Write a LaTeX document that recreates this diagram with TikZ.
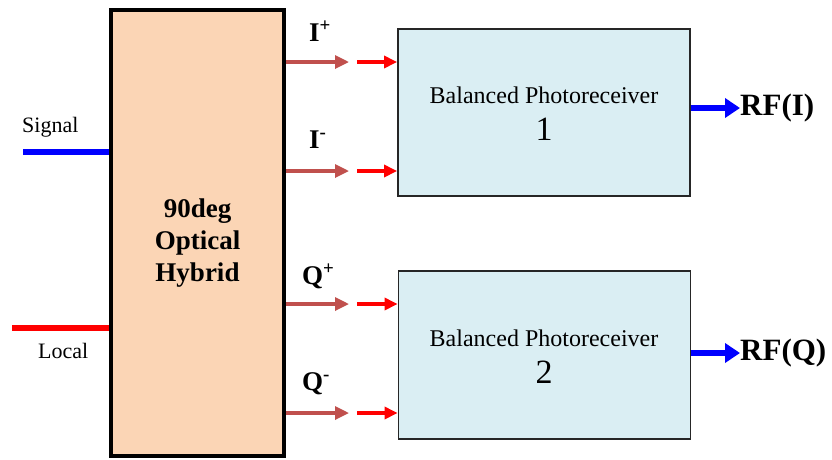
\documentclass[tikz,border=0pt]{standalone}
\usepackage{fontspec}
\setmainfont{Liberation Serif}
\usetikzlibrary{arrows.meta}
\definecolor{hybfill}{RGB}{251,213,181}
\definecolor{prfill}{RGB}{218,238,243}
\definecolor{brn}{RGB}{192,80,77}
\definecolor{sigblue}{RGB}{0,0,255}
\definecolor{lored}{RGB}{255,0,0}
\begin{document}
\begin{tikzpicture}[x=1pt,y=-1pt,
  hybbox/.style={draw=black, line width=4pt, fill=hybfill, inner sep=0pt,
    minimum width=173pt, minimum height=446pt},
  prbox/.style={draw=black!85, line width=1.8pt, fill=prfill, inner sep=0pt,
    minimum width=292pt, minimum height=167pt},
  brarrow/.style={draw=brn, line width=3.2pt, -{Triangle[length=14pt,width=13pt]}},
  rdarrow/.style={draw=lored, line width=3.2pt, -{Triangle[length=13pt,width=12pt]}},
  rfarrow/.style={draw=sigblue, line width=5.5pt, -{Triangle[length=15pt,width=19pt]}},
  inline/.style={line width=5.5pt},
  portlbl/.style={font=\fontsize{27}{30}\selectfont\bfseries, inner sep=0pt, anchor=base west},
  sidelbl/.style={font=\fontsize{22}{26}\selectfont, inner sep=0pt, anchor=base west},
  rflbl/.style={font=\fontsize{31}{34}\selectfont\bfseries, inner sep=0pt, anchor=west},
  prtxt/.style={font=\fontsize{24}{28}\selectfont, inner sep=0pt},
  prnum/.style={font=\fontsize{34}{38}\selectfont, inner sep=0pt}
]
\useasboundingbox (0,0) rectangle (832,459);

% boxes
\node[hybbox] (hyb) at (197.5,233) {};
\node[font=\fontsize{27}{32}\selectfont\bfseries, align=center, inner sep=0pt] (hybtxt) at (197.5,243)
  {90deg\\Optical\\Hybrid};
\node[prbox] (pr1) at (544,112.5) {};
\node[prbox, minimum height=168pt] (pr2) at (544.5,355) {};
\node[prtxt] (pr1a) at (544,95) {Balanced Photoreceiver};
\node[prnum] (pr1b) at (544,129) {1};
\node[prtxt] (pr2a) at (544,338) {Balanced Photoreceiver};
\node[prnum] (pr2b) at (544,372) {2};

% inputs
\coordinate (sig) at (23,152);
\coordinate (loc) at (12,328);
\draw[inline, draw=sigblue] (sig) -- (sig -| hyb.west);
\draw[inline, draw=lored] (loc) -- (loc -| hyb.west);
\node[sidelbl] (siglbl) at (22,132) {Signal};
\node[sidelbl] (loclbl) at (38,358) {Local};

% outputs of hybrid
\foreach \nm/\yy/\tgt in {ip/62/pr1, im/171/pr1, qp/304/pr2, qm/413/pr2}{
  \coordinate (\nm a) at (hyb.east |- 0,\yy);
  \coordinate (\nm b) at (349,\yy);
  \coordinate (\nm c) at (357,\yy);
  \draw[brarrow] (\nm a) -- (\nm b);
  \draw[rdarrow] (\nm c) -- (\nm c -| \tgt.west);
}
\node[portlbl] (lip) at (309,41) {I\textsuperscript{+}};
\node[portlbl] (lim) at (309,148) {I\textsuperscript{-}};
\node[portlbl] (lqp) at (302,284) {Q\textsuperscript{+}};
\node[portlbl] (lqm) at (302,390) {Q\textsuperscript{-}};

% RF outputs
\node[rflbl] (rfi) at (740,108) {RF(I)};
\node[rflbl] (rfq) at (740,353) {RF(Q)};
\draw[rfarrow] (pr1.east |- rfi.west) -- (rfi.west);
\draw[rfarrow] (pr2.east |- rfq.west) -- (rfq.west);
\end{tikzpicture}
\end{document}
